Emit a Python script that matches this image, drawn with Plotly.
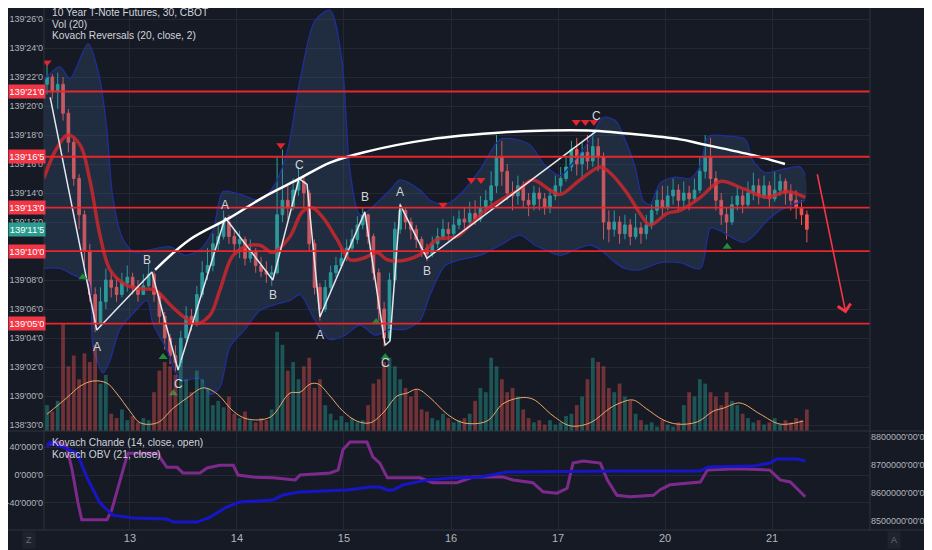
import plotly.graph_objects as go

# prices are in 32nds above 139'00 (so -2 = 138'30)
first_open = 21.5
closes = [22.0, 21.0, 21.5, 19.5, 17.5, 15.0, 12.5, 10.0, 7.0, 5.0,
          6.5, 8.0, 7.5, 7.0, 7.8, 8.2, 7.5, 7.0, 7.6, 8.4,
          7.0, 5.5, 4.0, 2.8, 2.3, 4.0, 5.5, 5.0, 7.0, 8.5,
          9.0, 10.5, 11.0, 12.0, 11.0, 10.5, 10.8, 9.5, 10.0, 9.0,
          8.6, 8.4, 8.5, 12.5, 13.5, 13.0, 14.2, 14.8, 14.0, 10.5,
          7.5, 6.0, 7.5, 8.5, 9.0, 9.5, 10.2, 10.8, 11.8, 12.5,
          11.0, 8.5, 6.0, 4.0, 8.0, 11.5, 12.8, 12.0, 11.5, 10.8,
          10.2, 9.8, 10.5, 11.0, 11.5, 11.2, 11.8, 12.2, 12.0, 12.6,
          12.2, 13.0, 13.5, 14.5, 16.5, 15.5, 14.0, 13.8, 14.5, 13.5,
          13.2, 14.0, 13.6, 13.0, 13.8, 14.5, 15.0, 15.8, 17.0, 16.0,
          16.8, 16.2, 17.2, 16.5, 12.0, 11.5, 12.0, 11.2, 11.8, 11.0,
          11.6, 11.2, 11.8, 12.8, 13.5, 13.0, 13.8, 14.2, 13.5, 14.0,
          13.6, 14.2, 15.5, 16.5, 15.0, 13.5, 12.5, 12.0, 13.2, 13.8,
          13.2, 14.0, 14.5, 13.8, 14.5, 13.6, 14.2, 14.8, 14.0, 13.5,
          13.0, 12.5, 11.5]
highs = [22.8, 22.2, 22.3, 22.0, 19.8, 17.8, 15.3, 12.8, 10.5, 7.5,
         7.5, 8.8, 8.6, 8.2, 8.5, 9.0, 8.5, 8.0, 8.4, 9.2,
         8.6, 7.2, 5.8, 4.3, 3.5, 4.5, 6.2, 6.0, 7.6, 9.3,
         10.2, 11.2, 12.0, 12.8, 12.5, 11.5, 11.4, 11.0, 10.8, 10.2,
         9.6, 9.3, 9.0, 16.5, 17.0, 14.5, 15.0, 15.8, 15.2, 14.2,
         10.8, 7.8, 8.0, 9.0, 9.6, 10.2, 10.8, 11.5, 12.4, 13.0,
         12.6, 11.2, 8.8, 6.5, 8.5, 12.0, 13.3, 13.0, 12.3, 11.8,
         11.0, 10.5, 11.0, 11.6, 12.2, 12.0, 12.4, 12.8, 13.0, 13.4,
         13.5, 13.8, 14.2, 15.5, 18.0, 17.6, 16.0, 14.8, 15.2, 14.8,
         14.0, 14.5, 14.4, 14.0, 14.3, 15.2, 15.8, 16.5, 17.6, 17.8,
         17.5, 18.0, 18.3, 17.8, 16.8, 12.8, 12.8, 12.4, 12.5, 12.2,
         12.6, 12.0, 12.5, 13.2, 14.2, 14.5, 14.5, 15.0, 14.6, 14.8,
         14.5, 15.0, 16.5, 18.0, 17.8, 15.5, 14.0, 13.0, 13.8, 14.5,
         14.2, 14.8, 15.4, 15.0, 15.2, 14.8, 15.5, 15.3, 15.0, 14.6,
         14.2, 13.5, 12.8]
lows = [20.8, 20.5, 19.8, 19.0, 16.8, 14.5, 11.5, 9.0, 6.5, 4.4,
        4.8, 6.0, 6.8, 6.5, 6.8, 7.2, 7.0, 6.5, 7.0, 7.5,
        6.5, 5.0, 3.2, 2.2, 1.6, 2.0, 3.8, 4.5, 4.8, 6.8,
        8.0, 8.6, 10.0, 10.8, 10.5, 9.8, 9.5, 9.0, 9.2, 8.5,
        8.2, 7.8, 7.6, 8.4, 12.0, 12.2, 12.8, 13.8, 13.0, 10.0,
        7.0, 5.2, 5.8, 7.2, 8.2, 8.8, 9.3, 10.0, 10.5, 11.5,
        10.5, 8.0, 5.2, 3.4, 3.8, 7.8, 11.2, 11.5, 10.8, 10.2,
        9.6, 9.3, 9.6, 10.2, 10.8, 10.7, 11.0, 11.5, 11.4, 11.8,
        11.8, 12.0, 12.5, 13.0, 14.0, 14.5, 13.5, 12.8, 13.2, 13.0,
        12.4, 12.8, 12.8, 12.5, 12.6, 13.5, 14.0, 14.8, 15.5, 15.2,
        15.0, 15.6, 15.8, 15.5, 10.8, 10.6, 11.0, 10.5, 10.8, 10.4,
        10.8, 10.5, 10.8, 11.5, 12.5, 12.4, 12.8, 13.2, 12.8, 13.0,
        12.8, 13.4, 14.0, 15.0, 14.2, 12.8, 11.8, 10.8, 11.8, 12.8,
        12.6, 13.0, 13.5, 13.2, 13.6, 13.0, 13.4, 13.8, 13.2, 12.8,
        12.2, 11.8, 10.6]
volumes = [6000, 4500, 7000, 24800, 15000, 17500, 12000, 18000, 16000, 20000,
           11000, 13000, 4000, 3000, 5000, 2500, 3500, 2000, 3000, 2500,
           9000, 14000, 16000, 15000, 13000, 16500, 12000, 9000, 14000, 12000,
           10000, 6000, 7000, 5500, 8000, 4000, 3000, 4500, 2500, 2000,
           3000, 2500, 5000, 23000, 20000, 14000, 16000, 12000, 15000, 17000,
           10000, 12000, 6000, 4000, 2500, 3500, 2000, 3000, 2000, 2500,
           6000, 11000, 12000, 16000, 17000, 15000, 12000, 10000, 8000, 9500,
           5000, 4500, 3000, 2500, 4000, 3000, 2000, 2500, 3000, 4000,
           7000, 10000, 9000, 17000, 15000, 12000, 9000, 10000, 8000, 5000,
           3000, 2000, 2500, 1500, 2500, 1500, 2000, 3500, 4000, 6000,
           8000, 12000, 17000, 16000, 15000, 10000, 9000, 11000, 8000, 7000,
           4000, 2500, 1500, 2000, 1000, 2500, 1500, 1000, 2000, 6000,
           9000, 8000, 12000, 11000, 9000, 8000, 6000, 9000, 7000, 6000,
           4000, 3000, 2000, 2500, 1500, 2000, 3000, 1500, 2500, 2000,
           3000, 2500, 5000]

# volume average (Vol 20), read at sparse bars
vol_ma_x = [0, 3.7, 6.2, 8.6, 11.2, 13.1, 15.5, 17.4, 20.6, 23.6, 26.2, 29.2, 31.8, 34.8,
            37.4, 41.7, 45.4, 47.3, 49.2, 50.7, 52.9, 55.3, 57.9, 60.4, 62.8, 65.4, 67.3,
            69.2, 71.6, 74.8, 77.8, 82.2, 85.2, 88.4, 90.8, 94.6, 97.8, 101.5, 105.2,
            107.1, 109.5, 112.1, 115.1, 117.8, 121.5, 124.5, 126.4, 129.5, 133.3, 137.0, 141.3]
vol_ma_y = [3900, 7700, 10400, 11600, 11100, 8600, 4600, 1900, 1900, 5300, 7700, 10000, 8600, 4600,
            2800, 3200, 8800, 9000, 10900, 10900, 8100, 4600, 2300, 1900, 4200, 8100, 8800,
            9700, 7700, 3900, 1900, 2300, 6300, 7700, 7400, 3500, 1200, 1900, 5300,
            6500, 7200, 5100, 2600, 1600, 2100, 4600, 5300, 6500, 3900, 1600, 2300]

# Kovach Reversals: moving average and envelope
ma_x = [-0.6, 1.7, 3.9, 6.2, 8.0, 9.9, 11.8, 14.6, 17.4, 20.2, 23.0, 25.8, 28.0, 30.5, 32.3,
        34.6, 37.0, 39.8, 42.2, 45.4, 47.7, 49.5, 51.6, 54.2, 56.6, 59.1, 61.7, 63.6, 67.3,
        70.3, 72.9, 76.6, 79.1, 81.9, 84.7, 88.0, 90.8, 94.0, 95.9, 99.6, 103.4, 105.2,
        108.4, 110.8, 112.7, 115.9, 118.3, 122.1, 125.8, 130.1, 134.6, 138.3, 141.7]
ma_y = [15.0, 17.0, 18.0, 17.3, 14.9, 11.1, 8.7, 7.7, 7.4, 7.3, 6.3, 5.4, 5.0, 5.6, 7.3,
        9.6, 10.3, 10.4, 9.9, 11.0, 12.7, 13.0, 12.3, 10.8, 9.4, 9.5, 9.9, 9.4, 9.4,
        9.9, 10.8, 11.0, 11.8, 12.8, 13.5, 14.2, 14.9, 14.2, 13.9, 14.9, 15.8, 15.4,
        14.0, 12.6, 11.8, 12.6, 12.8, 13.7, 14.8, 14.3, 13.7, 14.1, 13.7]

upper_x = [-0.6, 2.4, 4.3, 7.7, 9.9, 11.2, 12.3, 14.2, 16.4, 19.3, 23.0, 25.8, 28.6, 31.0,
           32.9, 36.1, 39.8, 42.6, 45.0, 47.3, 50.1, 52.9, 55.1, 56.6, 58.5, 61.3, 64.1,
           66.0, 69.7, 71.6, 74.4, 77.2, 80.9, 84.7, 87.5, 90.3, 93.1, 95.9, 98.7, 101.5,
           103.9, 106.2, 108.0, 109.9, 111.4, 112.7, 114.6, 117.4, 120.2, 122.1, 123.6,
           127.7, 130.5, 131.8, 134.2, 137.0, 140.7, 141.7]
upper_y = [21.8, 22.7, 21.9, 24.3, 21.8, 18.3, 13.7, 10.8, 9.9, 10.1, 10.3, 9.7, 10.1, 11.4,
           14.1, 13.9, 13.5, 14.6, 17.0, 21.8, 25.9, 26.6, 23.2, 15.6, 12.5, 13.2, 14.2,
           14.9, 14.2, 13.5, 13.2, 13.9, 15.6, 17.7, 17.7, 17.3, 15.9, 15.2, 16.3, 17.7,
           19.2, 19.0, 17.7, 15.8, 13.5, 13.2, 14.7, 15.1, 15.0, 15.9, 17.9,
           17.9, 17.7, 16.3, 15.4, 15.6, 15.8, 15.2]
lower_x = [-0.6, 2.4, 5.2, 7.7, 8.6, 10.5, 11.8, 13.6, 16.1, 18.7, 19.8, 22.4, 24.9, 28.6,
           30.5, 32.3, 34.2, 37.0, 39.8, 42.6, 45.4, 47.3, 50.1, 52.9, 55.7, 58.5, 61.3,
           64.1, 66.9, 69.7, 71.6, 74.4, 77.2, 80.9, 84.7, 88.4, 91.2, 93.1, 95.9, 98.7,
           101.5, 103.4, 106.2, 108.0, 110.8, 114.6, 118.3, 122.1, 124.0, 125.8, 130.1,
           131.9, 134.6, 137.0, 140.2, 141.7]
lower_y = [8.8, 8.8, 8.3, 7.9, 3.4, 1.6, 2.5, 4.6, 5.7, 6.6, 5.0, 3.2, 1.1, 1.2,
           0.1, 0.6, 3.4, 4.6, 5.9, 6.3, 6.6, 7.0, 5.2, 3.9, 4.2, 4.9, 4.2,
           4.6, 4.6, 5.2, 7.0, 9.0, 9.4, 9.7, 10.4, 11.1, 10.4, 10.1, 9.7, 10.1,
           10.4, 10.1, 9.2, 8.8, 8.7, 9.2, 9.2, 8.8, 11.6, 11.4, 10.6,
           11.0, 12.1, 12.8, 13.3, 13.5]

# reversal markers (bar, price)
rev_down = [(0.0, 23.0), (43.7, 17.3), (74.0, 13.2), (79.3, 14.9), (81.1, 14.9),
            (98.9, 18.9), (100.6, 18.9), (102.2, 18.9)]
rev_up = [(6.7, 8.2), (21.7, 2.7), (23.6, 0.2), (61.5, 5.1), (63.2, 2.7), (127.1, 10.3)]

# drawings: wave zigzag, wave letters, arc, levels, arrow
wave_x = [0.6, 9.3, 19.6, 24.5, 33.3, 42.2, 47.1, 48.6, 51.0, 59.4, 63.2, 64.1, 66.0, 71.0, 102.8]
wave_y = [20.6, 4.55, 8.55, 1.8, 12.3, 8.0, 15.0, 14.6, 5.45, 12.7, 3.5, 3.8, 13.2, 9.5, 18.3]
wave_labels = [(9.3, 3.4, 'A'), (18.7, 9.4, 'B'), (24.5, 0.8, 'C'), (33.3, 13.2, 'A'),
               (42.2, 7.0, 'B'), (47.1, 15.9, 'C'), (51.0, 4.2, 'A'), (59.4, 13.7, 'B'),
               (63.2, 2.3, 'C'), (66.0, 14.1, 'A'), (71.0, 8.6, 'B'), (102.6, 19.3, 'C')]
arc_x = [20.2, 26.7, 34.2, 40.4, 46.7, 52.9, 59.1, 71.6, 86.0, 92.1, 102.1, 108.4, 118.3,
         122.1, 132.0, 137.9]
arc_y = [8.7, 10.8, 12.3, 13.7, 14.9, 16.1, 16.8, 17.7, 18.2, 18.3, 18.3, 18.1, 17.7,
         17.4, 16.6, 16.0]
levels = [21.0, 16.5, 13.0, 10.0, 5.0]
arrow_from = (143.9, 15.4)
arrow_to = (149.3, 5.7)

# lower pane
chande_x = [0, 2.1, 3.7, 4.7, 5.8, 6.5, 11.2, 12.1, 14.2, 15.1, 20.6, 22.4, 24.3, 25.4, 28.6,
            29.9, 32.3, 34.8, 35.7, 38.5, 42.2, 46.4, 47.3, 52.9, 54.4, 55.3, 56.6, 59.8,
            60.9, 62.2, 63.6, 69.7, 72.1, 76.6, 79.6, 85.2, 87.1, 90.8, 92.7, 95.3, 97.2,
            98.3, 100.2, 103.4, 104.7, 106.5, 109.0, 113.3, 114.6, 116.4, 122.1, 123.4,
            129.0, 135.1, 137.0, 138.9, 141.7]
chande_y = [43, 47, 40, 7, -40, -64, -64, -50, 7, 31, 31, 11, 11, 3, 3,
            10, 14, 14, 0, -3, -4, -7, 0, 3, 7, 36, 47, 47,
            26, 17, -4, -4, -11, -11, -3, -3, -7, -11, -24, -26, -19,
            17, 20, 17, -7, -29, -31, -29, -21, -14, -10, 7,
            9, 7, -7, -10, -31]
obv_x = [0, 0.6, 5.6, 7.5, 9.9, 12.3, 16.1, 22.4, 23.6, 28.0, 30.5, 33.6, 36.1, 42.2, 44.1,
         47.3, 56.1, 60.4, 62.2, 63.6, 64.7, 66.5, 71.0, 75.9, 80.9, 86.0, 107.1, 122.1,
         123.6, 132.0, 135.1, 136.4, 140.2, 141.7]
obv_y = [8764000, 8782000, 8743000, 8654000, 8564000, 8521000, 8511000, 8507000, 8496000,
         8496000, 8514000, 8550000, 8568000, 8575000, 8593000, 8604000, 8611000, 8621000,
         8621000, 8611000, 8611000, 8629000, 8646000, 8654000, 8657000, 8675000, 8679000,
         8679000, 8693000, 8696000, 8707000, 8721000, 8721000, 8714000]

day_bars = [15.5, 35.5, 55.5, 75.5, 95.5, 115.5, 135.5]
day_labels = ['13', '14', '15', '16', '17', '20', '21']
price_ticks = list(range(-2, 28, 2))
chande_ticks = [-40, 0, 40]
obv_ticks = [8500000, 8600000, 8700000, 8800000]

BG = '#161a25'
GRID = '#242834'
BORDER = '#2e323d'
TXT = '#b2b5be'
UP = '#26a69a'
DOWN = '#ef5350'
FONT = 'Liberation Sans'

# the page body adds an 8px margin, so the figure is 8px smaller and shifted
W, H, OFF = 924, 542, 8


def px_x(p):
    return (p - OFF) / W


def px_y(p):
    return 1 - (p - OFF) / H


def fmt32(v):
    handle = 139
    while v < 0:
        v += 32
        handle -= 1
    whole = int(v)
    half = '5' if v - whole >= 0.5 else '0'
    return f"{handle}'{whole:02d}'{half}"


bars = list(range(len(closes)))
opens = [first_open] + closes[:-1]
vol_colors = ['rgba(38,166,154,0.42)' if c >= o else 'rgba(239,83,80,0.42)'
              for o, c in zip(opens, closes)]

fig = go.Figure()

# envelope
fig.add_trace(go.Scatter(x=upper_x + lower_x[::-1], y=upper_y + lower_y[::-1],
                         fill='toself', fillcolor='rgba(70,110,160,0.22)',
                         line=dict(width=0, shape='spline', smoothing=0.8),
                         mode='lines', hoverinfo='skip'))
for bx, by in [(upper_x, upper_y), (lower_x, lower_y)]:
    fig.add_trace(go.Scatter(x=bx, y=by, mode='lines',
                             line=dict(color='#1f2f96', width=1.3, shape='spline', smoothing=0.8)))

# volume
fig.add_trace(go.Bar(x=bars, y=volumes, marker=dict(color=vol_colors, line_width=0),
                     width=0.7, yaxis='y2'))
fig.add_trace(go.Scatter(x=vol_ma_x, y=vol_ma_y, mode='lines', yaxis='y2',
                         line=dict(color='#f0a868', width=1, shape='spline')))

# candles
fig.add_trace(go.Candlestick(x=bars, open=opens, high=highs, low=lows, close=closes,
                             increasing=dict(line=dict(color=UP, width=1), fillcolor=UP),
                             decreasing=dict(line=dict(color=DOWN, width=1), fillcolor=DOWN),
                             whiskerwidth=0))

fig.add_trace(go.Scatter(x=ma_x, y=ma_y, mode='lines',
                         line=dict(color='rgba(205,40,45,0.85)', width=3.5, shape='spline')))

# wave drawings
fig.add_trace(go.Scatter(x=wave_x, y=wave_y, mode='lines', line=dict(color='#e4e6ec', width=1.5)))
fig.add_trace(go.Scatter(x=arc_x, y=arc_y, mode='lines',
                         line=dict(color='#ffffff', width=2.5, shape='spline')))

fig.add_trace(go.Scatter(x=[p[0] for p in rev_down], y=[p[1] for p in rev_down], mode='markers',
                         marker=dict(symbol='triangle-down', size=8, color='#e0262c')))
fig.add_trace(go.Scatter(x=[p[0] for p in rev_up], y=[p[1] for p in rev_up], mode='markers',
                         marker=dict(symbol='triangle-up', size=8, color='#1e8c3a')))

# lower pane
fig.add_trace(go.Scatter(x=chande_x, y=chande_y, mode='lines', xaxis='x2', yaxis='y3',
                         line=dict(color='#7e2a8c', width=3)))
fig.add_trace(go.Scatter(x=obv_x, y=obv_y, mode='lines', xaxis='x2', yaxis='y4',
                         line=dict(color='#1616c8', width=3)))

for lv in levels:
    fig.add_shape(type='line', xref='x domain', x0=0, x1=1, yref='y', y0=lv, y1=lv,
                  line=dict(color='#e8262c', width=1.8))
    fig.add_annotation(xref='paper', x=px_x(8), xanchor='left', yref='y', y=lv,
                       text=fmt32(lv), showarrow=False, bgcolor='#f23645', width=34,
                       borderpad=1, font=dict(color='white', size=9.5))
fig.add_annotation(xref='paper', x=px_x(8), xanchor='left', yref='y', y=closes[-1],
                   text=fmt32(closes[-1]), showarrow=False, bgcolor='#2a9d8f', width=34,
                   borderpad=1, font=dict(color='white', size=9.5))

for bx, by, t in wave_labels:
    fig.add_annotation(x=bx, y=by, text=t, showarrow=False,
                       font=dict(color='#d1d4dc', size=12))

fig.add_annotation(x=arrow_to[0], y=arrow_to[1], ax=arrow_from[0], ay=arrow_from[1],
                   xref='x', yref='y', axref='x', ayref='y', text='', showarrow=True,
                   arrowhead=4, arrowsize=1.6, arrowwidth=1.6, arrowcolor='#f23645')

# pane legends
for k, t in enumerate(['10 Year T-Note Futures, 30, CBOT', 'Vol (20)',
                       'Kovach Reversals (20, close, 2)']):
    fig.add_annotation(xref='paper', yref='paper', x=px_x(50), y=px_y(12 + 12 * k),
                       text=t, showarrow=False, xanchor='left', yanchor='middle',
                       font=dict(color='#d1d4dc', size=10.2))
for k, t in enumerate(['Kovach Chande (14, close, open)', 'Kovach OBV (21, close)']):
    fig.add_annotation(xref='paper', yref='paper', x=px_x(50), y=px_y(442 + 12 * k),
                       text=t, showarrow=False, xanchor='left', yanchor='middle',
                       font=dict(color='#d1d4dc', size=10.2))
for t, px in [('Z', 22), ('A', 901)]:
    fig.add_annotation(xref='paper', yref='paper', x=px_x(px), y=px_y(540), text=t,
                       showarrow=False, yanchor='middle', bgcolor='#1f232e', borderpad=3,
                       font=dict(color='#6a6d78', size=9))

# pane borders
for py in [431, 530]:
    fig.add_shape(type='line', xref='paper', yref='paper', x0=0, x1=1, y0=px_y(py), y1=px_y(py),
                  line=dict(color=BORDER, width=1))
for pxx in [44, 870]:
    fig.add_shape(type='line', xref='paper', yref='paper', x0=px_x(pxx), x1=px_x(pxx),
                  y0=px_y(530), y1=1, line=dict(color=BORDER, width=1))

xdom = [px_x(44), px_x(870)]
fig.update_layout(
    width=W, height=H, margin=dict(l=0, r=0, t=0, b=0),
    paper_bgcolor=BG, plot_bgcolor=BG, showlegend=False,
    font=dict(family=FONT, color=TXT, size=10),
    xaxis=dict(domain=xdom, range=[-0.56, 153.8], tickvals=day_bars, showticklabels=False,
               gridcolor=GRID, zeroline=False, rangeslider=dict(visible=False),
               anchor='y', automargin=False),
    xaxis2=dict(domain=xdom, matches='x', anchor='y3', tickvals=day_bars, ticktext=day_labels,
                gridcolor=GRID, zeroline=False, tickfont=dict(size=11, color=TXT),
                automargin=False),
    yaxis=dict(domain=[px_y(431), 1], range=[-2.41, (396 - OFF) / 14.5], tickvals=price_ticks,
               ticktext=['' if v == 10 else fmt32(v) for v in price_ticks],
               gridcolor=GRID, zeroline=False, ticklabelstandoff=0,
               tickfont=dict(size=9, color=TXT), automargin=False),
    yaxis2=dict(overlaying='y', range=[0, 232 * (431 - OFF)], visible=False),
    yaxis3=dict(domain=[px_y(530), px_y(431)], range=[-78.6, 62.9], anchor='x2',
                tickvals=chande_ticks, ticktext=["-40'000'0", "0'000'0", "40'000'0"],
                gridcolor=GRID, zeroline=False, ticklabelstandoff=0,
                tickfont=dict(size=9, color=TXT), automargin=False),
    yaxis4=dict(overlaying='y3', side='right', anchor='x2', range=[8467857, 8821429],
                tickvals=obv_ticks, ticktext=[f"{v}'00'0" for v in obv_ticks],
                showgrid=False, zeroline=False, tickfont=dict(size=9, color=TXT),
                automargin=False),
)

fig.write_html("out.html")
